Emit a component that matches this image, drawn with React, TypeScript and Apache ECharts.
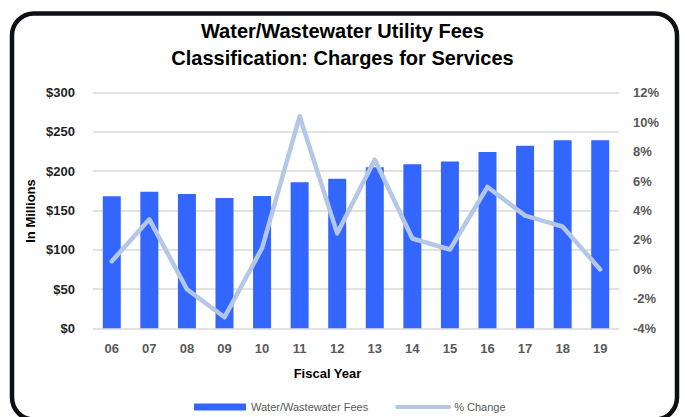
import React, { useEffect, useRef } from "react";
import * as echarts from "echarts";

const years = ["06", "07", "08", "09", "10", "11", "12", "13", "14", "15", "16", "17", "18", "19"];
const fees = [168, 174, 171, 166, 168.5, 186, 190.5, 205, 209, 212.5, 224.5, 232.5, 239.5, 239.5];
const pctChange = [0.55, 3.4, -1.35, -3.25, 1.45, 10.4, 2.45, 7.45, 2.1, 1.35, 5.6, 3.65, 2.9, 0.0];
const feeTicks = { min: 0, max: 300, interval: 50 };
const pctTicks = { min: -4, max: 12, interval: 2 };

const FONT = "'Liberation Sans', Arial, sans-serif";

export default function App() {
  const ref = useRef<HTMLDivElement>(null);

  useEffect(() => {
    if (!ref.current) return;
    const chart = echarts.init(ref.current, null, { renderer: "svg" });
    chart.setOption({
      animation: false,
      backgroundColor: "#ffffff",
      textStyle: { fontFamily: FONT },
      title: {
        text: "Water/Wastewater Utility Fees\nClassification: Charges for Services",
        left: "center",
        top: 12,
        textStyle: {
          fontFamily: FONT,
          fontSize: 20,
          fontWeight: "bold",
          color: "#000000",
          lineHeight: 27,
        },
      },
      grid: { left: 93, right: 66, top: 92.7, bottom: 88.7 },
      legend: {
        left: 189,
        top: 396.5,
        itemWidth: 52,
        itemHeight: 7,
        itemGap: 27,
        textStyle: { fontFamily: FONT, fontSize: 11, color: "#595959" },
        data: [
          { name: "Water/Wastewater Fees", icon: "rect" },
          {
            name: "% Change",
            lineStyle: { width: 4, cap: "round", color: "#B4C7E7" },
            itemStyle: { opacity: 0, borderWidth: 0 },
          },
        ],
      },
      xAxis: {
        type: "category",
        data: years,
        axisLine: { show: false },
        axisTick: { show: false },
        axisLabel: {
          margin: 14,
          fontFamily: FONT,
          fontSize: 13,
          fontWeight: "bold",
          color: "#595959",
        },
      },
      yAxis: [
        {
          type: "value",
          min: feeTicks.min,
          max: feeTicks.max,
          interval: feeTicks.interval,
          axisLine: { show: false },
          axisTick: { show: false },
          splitLine: { lineStyle: { color: "#D9D9D9", width: 1.5 } },
          axisLabel: {
            margin: 18,
            fontFamily: FONT,
            fontSize: 13,
            fontWeight: "bold",
            color: "#1f1f1f",
            formatter: (v: number) => "$" + v,
          },
        },
        {
          type: "value",
          min: pctTicks.min,
          max: pctTicks.max,
          interval: pctTicks.interval,
          axisLine: { show: false },
          axisTick: { show: false },
          splitLine: { show: false },
          axisLabel: {
            margin: 14,
            fontFamily: FONT,
            fontSize: 13,
            fontWeight: "bold",
            color: "#595959",
            formatter: (v: number) => v + "%",
          },
        },
      ],
      series: [
        {
          name: "Water/Wastewater Fees",
          type: "bar",
          data: fees,
          barWidth: 18,
          yAxisIndex: 0,
          itemStyle: { color: "#3366FF" },
          z: 2,
        },
        {
          name: "% Change",
          type: "line",
          data: pctChange,
          yAxisIndex: 1,
          symbol: "none",
          lineStyle: { color: "#B4C7E7", width: 4.5, cap: "round", join: "round" },
          itemStyle: { color: "#B4C7E7" },
          z: 3,
        },
      ],
      graphic: [
        {
          type: "text",
          x: 30,
          y: 211,
          rotation: Math.PI / 2,
          style: {
            text: "In Millions",
            fontFamily: FONT,
            fontSize: 13,
            fontWeight: "bold",
            fill: "#000000",
            align: "center",
            verticalAlign: "middle",
          },
        },
        {
          type: "text",
          x: 327.5,
          y: 373.5,
          style: {
            text: "Fiscal Year",
            fontFamily: FONT,
            fontSize: 13,
            fontWeight: "bold",
            fill: "#000000",
            align: "center",
            verticalAlign: "middle",
          },
        },
        {
          type: "rect",
          shape: { x: 12, y: 13.5, width: 665, height: 406, r: 22 },
          style: { fill: "none", stroke: "#0d1117", lineWidth: 4.5 },
          z: 100,
        },
      ],
    });
    return () => chart.dispose();
  }, []);

  return (
    <div
      ref={ref}
      style={{ position: "absolute", left: 0, top: 0, width: 685, height: 417 }}
    />
  );
}
